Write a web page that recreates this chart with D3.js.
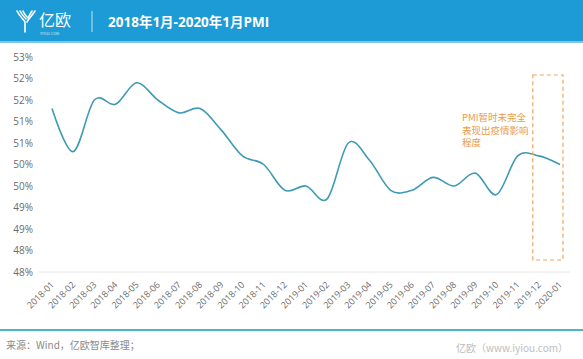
<!DOCTYPE html>
<html><head><meta charset="utf-8">
<script src="https://cdn.jsdelivr.net/npm/d3@7/dist/d3.min.js"></script>
<style>
html,body{margin:0;padding:0;background:#fff;}
svg{display:block;font-family:"Open Sans","Noto Sans CJK SC",sans-serif;}
</style></head>
<body>
<script>
const months = ["2018-01","2018-02","2018-03","2018-04","2018-05","2018-06","2018-07","2018-08","2018-09","2018-10","2018-11","2018-12",
"2019-01","2019-02","2019-03","2019-04","2019-05","2019-06","2019-07","2019-08","2019-09","2019-10","2019-11","2019-12","2020-01"];
const pmi = [51.3,50.3,51.5,51.4,51.9,51.5,51.2,51.3,50.8,50.2,50.0,49.4,
49.5,49.2,50.5,50.1,49.4,49.4,49.7,49.5,49.8,49.3,50.2,50.2,50.0];
const yTickValues = [52.5,52,51.5,51,50.5,50,49.5,49,48.5,48,47.5];
const yTickLabels = ["53%","52%","52%","51%","51%","50%","50%","49%","49%","48%","48%"];
const title = "2018年1月-2020年1月PMI";
const note = ["PMI暂时未完全","表现出疫情影响","程度"];
const source = "来源：Wind，亿欧智库整理；";
const watermark = "亿欧（www.iyiou.com）";

const W = 583, H = 359;
const svg = d3.select("body").append("svg").attr("width", W).attr("height", H);

// header
svg.append("rect").attr("x",0).attr("y",0).attr("width",W).attr("height",41).attr("fill","#1d9bd6");
svg.append("rect").attr("x",0).attr("y",41).attr("width",W).attr("height",2).attr("fill","#7cc6e8");
// logo icon
const lg = svg.append("g").attr("transform","translate(16,10)").attr("fill","none").attr("stroke","#fff").attr("stroke-width",1.6).attr("stroke-linecap","round");
lg.append("path").attr("d","M1,1 C4,7 8,10 9,12 L9,22");
lg.append("path").attr("d","M4,1 C6,5 9,8 10,9");
lg.append("path").attr("d","M7,1 C8,4 10,6 11,7");
lg.append("path").attr("d","M19,1 C16,6 12,9 11,12");
lg.append("path").attr("d","M16,1 C14,4 13,6 12,8");
svg.append("text").attr("x",39).attr("y",26).attr("fill","#fff").attr("font-size",16)
  .attr("font-family","'Noto Sans CJK SC',sans-serif").text("亿欧");
svg.append("text").attr("x",40).attr("y",35).attr("fill","#d8eef9").attr("font-size",3.5).text("YIYOU.COM");
svg.append("line").attr("x1",92).attr("x2",92).attr("y1",11).attr("y2",32).attr("stroke","#bfe3f5").attr("stroke-width",1);
svg.append("text").attr("x",108).attr("y",27).attr("fill","#fff").attr("font-size",13.5).attr("font-weight","bold")
  .attr("font-family","'Open Sans','Noto Sans CJK SC',sans-serif").text(title);

// scales
const x = d3.scalePoint().domain(months).range([52,560]);
const y = d3.scaleLinear().domain([47.5,52.5]).range([272,57]);

// bottom axis line
svg.append("line").attr("x1",38).attr("x2",570).attr("y1",y(47.5)).attr("y2",y(47.5)).attr("stroke","#e6e6e6").attr("stroke-width",1);

// y axis
const yAxis = d3.axisLeft(y).tickValues(yTickValues).tickSize(0).tickPadding(0)
  .tickFormat((d,i)=>yTickLabels[i]);
const yg = svg.append("g").attr("transform","translate(33,0)").call(yAxis);
yg.select(".domain").remove();
yg.selectAll("text").attr("fill","#6b6b6b").attr("font-size",10).attr("font-family","'Open Sans',sans-serif");

// x axis
const xAxis = d3.axisBottom(x).tickSize(0).tickPadding(0);
const xg = svg.append("g").attr("transform","translate(0,283)").call(xAxis);
xg.select(".domain").remove();
xg.selectAll("text").attr("fill","#6b6b6b").attr("font-size",9).attr("font-family","'Open Sans',sans-serif")
  .attr("text-anchor","end").attr("dy","0.35em").attr("transform","rotate(-45)");

// line
const line = d3.line().x((d,i)=>x(months[i])).y(d=>y(d)).curve(d3.curveCardinal.tension(0));
svg.append("path").datum(pmi).attr("d",line).attr("fill","none").attr("stroke","#3f9ab3").attr("stroke-width",1.6);

// dashed box around last points
const bx0 = x(months[months.length-2]) - 6, bx1 = x(months[months.length-1]) + 3;
svg.append("rect").attr("x",bx0).attr("y",75).attr("width",bx1-bx0).attr("height",185)
  .attr("fill","none").attr("stroke","#f0a55a").attr("stroke-width",1.2).attr("stroke-dasharray","4,3");
const nt = svg.append("text").attr("fill","#ee9a44").attr("font-size",9.5)
  .attr("font-family","'Noto Sans CJK SC',sans-serif");
note.forEach((t,i)=>nt.append("tspan").attr("x",462).attr("y",121+i*12.5).text(t));

// footer
svg.append("line").attr("x1",0).attr("x2",W).attr("y1",330).attr("y2",330).attr("stroke","#4eb4c9").attr("stroke-width",2);
svg.append("text").attr("x",6).attr("y",349).attr("fill","#8a8a8a").attr("font-size",10)
  .attr("font-family","'Noto Sans CJK SC',sans-serif").text(source);
svg.append("text").attr("x",568).attr("y",352).attr("text-anchor","end").attr("fill","#bdbdbd").attr("font-size",10)
  .attr("font-family","'Noto Sans CJK SC',sans-serif").text(watermark);
</script>
</body></html>
